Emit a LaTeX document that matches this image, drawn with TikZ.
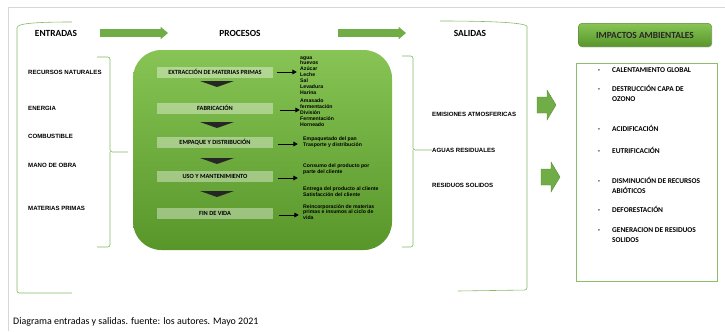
\documentclass[tikz,border=0pt]{standalone}
\usepackage{fontspec}
\setmainfont{Carlito}[BoldFont={Carlito Bold}]
\newfontfamily\arialfont{Liberation Sans}
\usetikzlibrary{positioning,calc,shadows,arrows.meta}

\definecolor{verde}{RGB}{112,173,71}
\definecolor{verdeclaro}{RGB}{135,196,85}
\definecolor{verdeoscuro}{RGB}{88,150,42}
\definecolor{marco}{RGB}{215,215,215}

\tikzset{
  titulo/.style={font=\bfseries\fontsize{8}{9}\selectfont, inner sep=0},
  entrada/.style={font=\arialfont\bfseries\fontsize{5.2}{6}\selectfont, anchor=west, inner sep=0},
  paso/.style={fill=white, fill opacity=.38, text opacity=1, minimum width=3.45cm,
    minimum height=0.33cm, inner sep=0, font=\bfseries\fontsize{5.4}{6}\selectfont},
  detalle/.style={font=\arialfont\bfseries\fontsize{4.4}{5.1}\selectfont, anchor=north west,
    align=left, inner sep=0},
  impacto/.style={font=\bfseries\fontsize{6.3}{8.6}\selectfont, anchor=north west, align=left, inner sep=0},
  guion/.style={font=\bfseries\fontsize{6.3}{7}\selectfont, anchor=base, inner sep=0},
  llave/.style={draw=verde!85, line width=0.5pt, rounded corners=2pt},
  flechaverde/.style={draw=verde, line width=2.2mm, -{Triangle[length=2.2mm,width=3.6mm]}},
  flechanegra/.style={draw=black, line width=0.7pt, -{Triangle[length=1.3mm,width=1.4mm]}},
  bloque/.style={fill=verde, draw=verde!80!black, line width=0.3pt},
}

\begin{document}
\begin{tikzpicture}[x=0.03cm,y=-0.03cm]
\useasboundingbox (0,0) rectangle (725,331);
{
% page frame
\draw [marco, line width=0.6pt] (8,331) -- (8,7) -- (725,7);

% Marking titles
\node [titulo] (entradas) at (56,33) {ENTRADAS};
\node [titulo] (procesos) at (240,33) {PROCESOS};
\node [titulo] (salidas) at (470,33) {SALIDAS};

% Drawing green arrows between titles
\coordinate (a1) at (100,33);
\coordinate (a2) at (168,33);
\coordinate (a3) at (338,33);
\coordinate (a4) at (406,33);
\draw [flechaverde] (a1) -- (a2);
\draw [flechaverde] (a3) -- (a4);

% Drawing outer brackets
\draw [llave] (72,22) .. controls (40,22) and (17,23) .. (17,30) -- (17,293) -- (72,293);
\draw [llave] (440,21) .. controls (480,21) and (527,22) .. (527,29) -- (527,290) -- (458,291);

% Drawing inner braces
\draw [llave] (97,57) -- (110,57) -- (110,152) -- (128,152);
\draw [llave] (110,152) -- (110,247) -- (97,247);
\draw [llave] (402,56) -- (413,56) -- (413,150) -- (432,150);
\draw [llave] (413,150) -- (413,247) -- (402,247);

% Marking inputs
\node [entrada] (recursos) at (28,72) {RECURSOS NATURALES};
\node [entrada] (energia) at (28,108) {ENERGIA};
\node [entrada] (combustible) at (28,136) {COMBUSTIBLE};
\node [entrada] (mano) at (28,165) {MANO DE OBRA};
\node [entrada] (materias) at (28,208) {MATERIAS PRIMAS};

% Drawing process block
\shade [top color=verdeclaro, bottom color=verdeoscuro, rounded corners=0.85cm]
  (133,50) rectangle (392,250);

% Marking process steps
\node [paso] (extraccion) at (215,72) {EXTRACCIÓN DE MATERIAS PRIMAS};
\node [paso] (fabricacion) at (215,108) {FABRICACIÓN};
\node [paso] (empaque) at (215,142) {EMPAQUE Y DISTRIBUCIÓN};
\node [paso] (uso) at (215,176) {USO Y MANTENIMIENTO};
\node [paso] (fin) at (215,213) {FIN DE VIDA};

% Drawing black chevrons between steps
\foreach \y in {81,122,158,191} {
  \fill [black!85] (200,\y) -- (234,\y) -- (217,\y+6) -- cycle;
}

% Marking step details
\node [detalle] (d1) at (300,56) {agua\\huevos\\Azúcar\\Leche\\Sal\\Levadura\\Harina};
\node [detalle] (d2) at (300,99) {Amasado\\fermentación\\División\\Fermentación\\Horneado};
\node [detalle] (d3) at (303,137) {Empaquetado del pan\\Trasporte y distribución};
\node [detalle] (d4) at (303,164) {Consumo del producto por\\parte del cliente};
\node [detalle] (d5) at (303,187) {Entrega del producto al cliente\\Satisfacción del cliente};
\node [detalle] (d6) at (303,204) {Reincorporación de materias\\primas e insumos al ciclo de\\vida};

% Drawing black arrows to details
\draw [flechanegra] ($(extraccion.east)+(4,0)$) -- ($(extraccion.east)+(24,0)$);
\draw [flechanegra] ($(fabricacion.east)+(7,2)$) -- ($(fabricacion.east)+(27,2)$);
\draw [flechanegra] ($(empaque.east)+(5,2)$) -- ($(empaque.east)+(25,2)$);
\draw [flechanegra] ($(uso.east)+(5,2)$) -- ($(uso.east)+(25,2)$);
\draw [flechanegra] ($(fin.east)+(6,2)$) -- ($(fin.east)+(26,2)$);

% Marking outputs
\node [entrada] (emisiones) at (432,114) {EMISIONES ATMOSFERICAS};
\node [entrada] (aguas) at (432,150) {AGUAS RESIDUALES};
\node [entrada] (residuos) at (432,185) {RESIDUOS SOLIDOS};

% Drawing block arrows
\draw [bloque] (537,97) -- (547,97) -- (547,90) -- (556,105) -- (547,120) -- (547,113) -- (537,113) -- cycle;
\draw [bloque] (541,169) -- (551,169) -- (551,162) -- (560,177) -- (551,192) -- (551,185) -- (541,185) -- cycle;

% Marking impacts title
\node [draw=verde!80!black, line width=0.3pt, rounded corners=3pt, top color=verdeclaro,
  bottom color=verdeoscuro, minimum width=4.0cm, minimum height=0.7cm,
  drop shadow={opacity=.3, shadow xshift=0.6pt, shadow yshift=-0.8pt},
  font=\bfseries\fontsize{8}{9}\selectfont, text=black!85] (impactos) at (645,35) {IMPACTOS AMBIENTALES};

% Drawing impacts frame
\draw [draw=verde!80, line width=0.5pt] (576,63) rectangle (717,281);

% Marking impacts
\foreach \y/\nombre/\texto in {72/i1/CALENTAMIENTO GLOBAL,
    91/i2/{DESTRUCCIÓN CAPA DE\\OZONO},
    131/i3/ACIDIFICACIÓN,
    153/i4/EUTRIFICACIÓN,
    183/i5/{DISMINUCIÓN DE RECURSOS\\ABIÓTICOS},
    212/i6/DEFORESTACIÓN,
    232/i7/{GENERACION DE RESIDUOS\\SOLIDOS}} {
  \node [guion] at (599,\y) {-};
  \node [impacto] (\nombre) at (612,\y-6.5) {\rule{0pt}{5.5pt}\texto};
}

% Marking caption
\node [anchor=west, inner sep=0, font=\fontsize{8.5}{10}\selectfont] (pie) at (13,322)
  {Diagrama entradas y salidas. fuente: los autores. Mayo 2021};
}
\end{tikzpicture}
\end{document}
